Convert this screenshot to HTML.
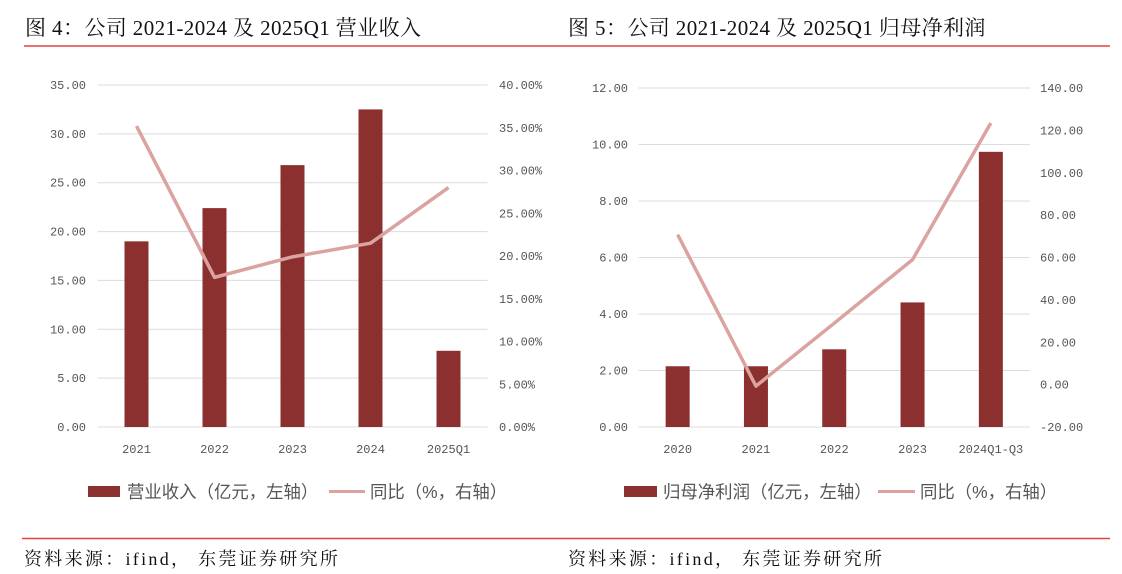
<!DOCTYPE html>
<html><head><meta charset="utf-8"><style>
body{margin:0;background:#fff;width:1122px;height:574px;overflow:hidden}
svg{display:block}
.t{font-family:"Liberation Serif","Noto Serif CJK SC",serif;font-size:21px;fill:#111;letter-spacing:0.4px}
.ax{font-family:"Liberation Mono","Noto Sans CJK SC",monospace;font-size:12px;fill:#555}
.lg{font-family:"Liberation Sans","Noto Sans CJK SC",sans-serif;font-size:17.4px;fill:#555}
.src{font-family:"Liberation Serif","Noto Serif CJK SC",serif;font-size:18px;fill:#111;letter-spacing:2.3px}
</style></head><body>
<svg id="s" width="1122" height="574">
<text class="t" x="25" y="35">图 4：公司 2021-2024 及 2025Q1 营业收入</text>
<text class="t" x="568" y="35">图 5：公司 2021-2024 及 2025Q1 归母净利润</text>
<line x1="24" y1="46" x2="1110" y2="46" stroke="#e8403f" stroke-width="1.5"/>
<line x1="22" y1="538.5" x2="1110" y2="538.5" stroke="#e8403f" stroke-width="1.5"/>
<text class="src" x="24" y="565">资料来源：ifind， 东莞证券研究所</text>
<text class="src" x="568" y="565">资料来源：ifind， 东莞证券研究所</text>
<rect x="88" y="486" width="32" height="11" fill="#8b2f2f"/>
<text class="lg" x="127" y="498">营业收入（亿元，左轴）</text>
<line x1="329" y1="491.5" x2="365" y2="491.5" stroke="#dba3a0" stroke-width="3"/>
<text class="lg" x="370" y="498">同比（%，右轴）</text>
<rect x="624" y="486" width="33" height="11" fill="#8b2f2f"/>
<text class="lg" x="663" y="498">归母净利润（亿元，左轴）</text>
<line x1="878" y1="491.5" x2="915" y2="491.5" stroke="#dba3a0" stroke-width="3"/>
<text class="lg" x="920" y="498">同比（%，右轴）</text>
</svg>
<script>
const cats1=["2021","2022","2023","2024","2025Q1"];
const rev=[19.0,22.4,26.8,32.5,7.8];
const revYoy=[35.2,17.5,19.9,21.5,28.0];
const leftTicks1=[0,5,10,15,20,25,30,35];
const rightTicks1=[0,5,10,15,20,25,30,35,40];
const cats2=["2020","2021","2022","2023","2024Q1-Q3"];
const np=[2.15,2.15,2.75,4.41,9.74];
const npYoy=[70.8,-0.7,29,59,123.5];
const leftTicks2=[0,2,4,6,8,10,12];
const rightTicks2=[-20,0,20,40,60,80,100,120,140];
const svg=document.getElementById('s');
const NS='http://www.w3.org/2000/svg';
function mk(tag,a){const e=document.createElementNS(NS,tag);for(const k in a)e.setAttribute(k,a[k]);svg.appendChild(e);return e;}
function chart(p,cats,bars,line,lt,rt,fmtR,id){
  const yL=v=>p.y0-(v-lt[0])/(lt[lt.length-1]-lt[0])*(p.y0-p.y1);
  const yR=v=>p.y0-(v-rt[0])/(rt[rt.length-1]-rt[0])*(p.y0-p.y1);
  const step=(p.x1-p.x0)/cats.length;
  const xc=i=>p.x0+step*(i+0.5);
  lt.forEach(v=>{
    const g=mk('line',{x1:p.x0,x2:p.x1,y1:yL(v),y2:yL(v),stroke:'#dcdcdc','stroke-width':1});
    
    
    const t=mk('text',{x:p.lx,y:yL(v)+4,'text-anchor':'end',class:'ax'});
    t.textContent=v.toFixed(2);
    
    
  });
  rt.forEach(v=>{
    const t=mk('text',{x:p.rx,y:yR(v)+4,class:'ax'});
    t.textContent=fmtR(v);
    
    
  });
  cats.forEach((c,i)=>{
    const r=mk('rect',{x:xc(i)-12,y:yL(bars[i]),width:24,height:yL(lt[0])-yL(bars[i]),fill:'#8b2f2f'});
    
    
    const t=mk('text',{x:xc(i),y:p.y0+26,'text-anchor':'middle',class:'ax'});
    t.textContent=c;
    
    
  });
  const pl=mk('polyline',{points:line.map((v,i)=>xc(i)+','+yR(v)).join(' '),fill:'none',stroke:'#dba3a0','stroke-width':3.5,'stroke-linejoin':'round'});
  
  
}
chart({x0:97.5,x1:487.5,y0:427,y1:85,lx:86,rx:499},cats1,rev,revYoy,leftTicks1,rightTicks1,v=>v.toFixed(2)+'%','chart1');
chart({x0:638.5,x1:1030,y0:427,y1:88,lx:628,rx:1040},cats2,np,npYoy,leftTicks2,rightTicks2,v=>v.toFixed(2),'chart2');
</script>
</body></html>
